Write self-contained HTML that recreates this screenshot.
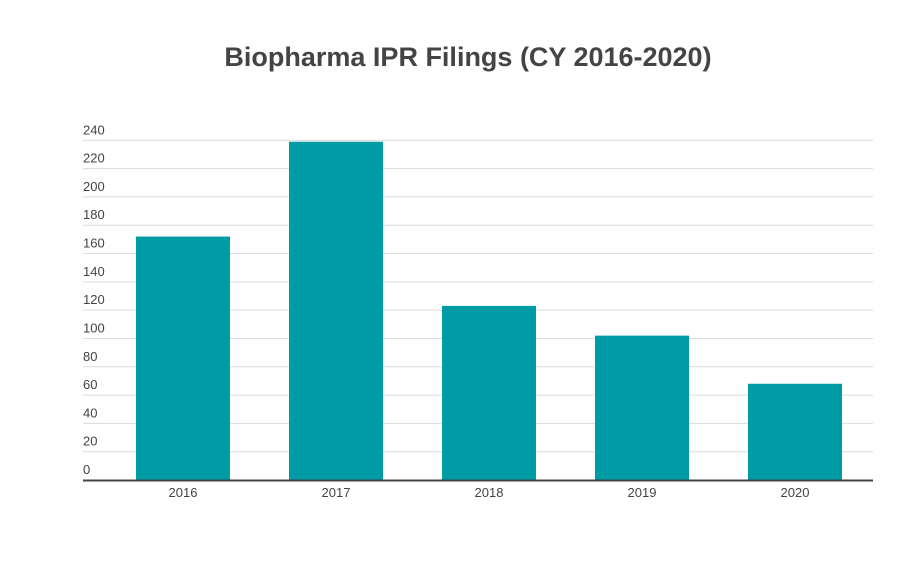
<!DOCTYPE html>
<html><head><meta charset="utf-8"><style>
body{margin:0;background:#fff;font-family:"Liberation Sans",sans-serif}
svg text{font-family:"Liberation Sans",sans-serif}
</style></head><body>
<svg id="c" width="907" height="564">
<text x="468" y="66" text-anchor="middle" font-size="27" font-weight="bold" fill="#444">Biopharma IPR Filings (CY 2016-2020)</text>
<g id="grid"></g><g id="bars"></g><g id="xl"></g>
</svg>
<script>
const categories=["2016","2017","2018","2019","2020"];
const values=[172,239,123,102,68];
const ticks=[0,20,40,60,80,100,120,140,160,180,200,220,240];
const NS="http://www.w3.org/2000/svg";
const y0=480,y1=140.3,maxV=240,gx0=83,gx1=873,bx0=106.5,bw=153,barW=94;
function y(v){return y0-(v/maxV)*(y0-y1);}
function x(i){return bx0+bw*i+bw/2;}
function mk(t,a,p){const e=document.createElementNS(NS,t);for(const k in a)e.setAttribute(k,a[k]);p.appendChild(e);return e;}
const g=document.getElementById('grid'),b=document.getElementById('bars'),xl=document.getElementById('xl');
ticks.forEach(t=>{
 if(t>0){const l=mk('line',{x1:gx0,x2:gx1,y1:y(t),y2:y(t),stroke:'#dcdcdc','stroke-width':1},g);
 
 }
 const tx=mk('text',{x:gx0,y:y(t)-6,'font-size':13,fill:'#444'},g);tx.textContent=t;
 
 
});
values.forEach((v,i)=>{
 const r=mk('rect',{x:x(i)-barW/2,y:y(v),width:barW,height:y0-y(v),fill:'#009ca6'},b);
 
 
 const t=mk('text',{x:x(i),y:497,'font-size':13,'text-anchor':'middle',fill:'#444'},xl);t.textContent=categories[i];
 
 
});
const ax=mk('line',{x1:gx0,x2:gx1,y1:y0+0.5,y2:y0+0.5,stroke:'#444','stroke-width':2},xl);


</script>
</body></html>
